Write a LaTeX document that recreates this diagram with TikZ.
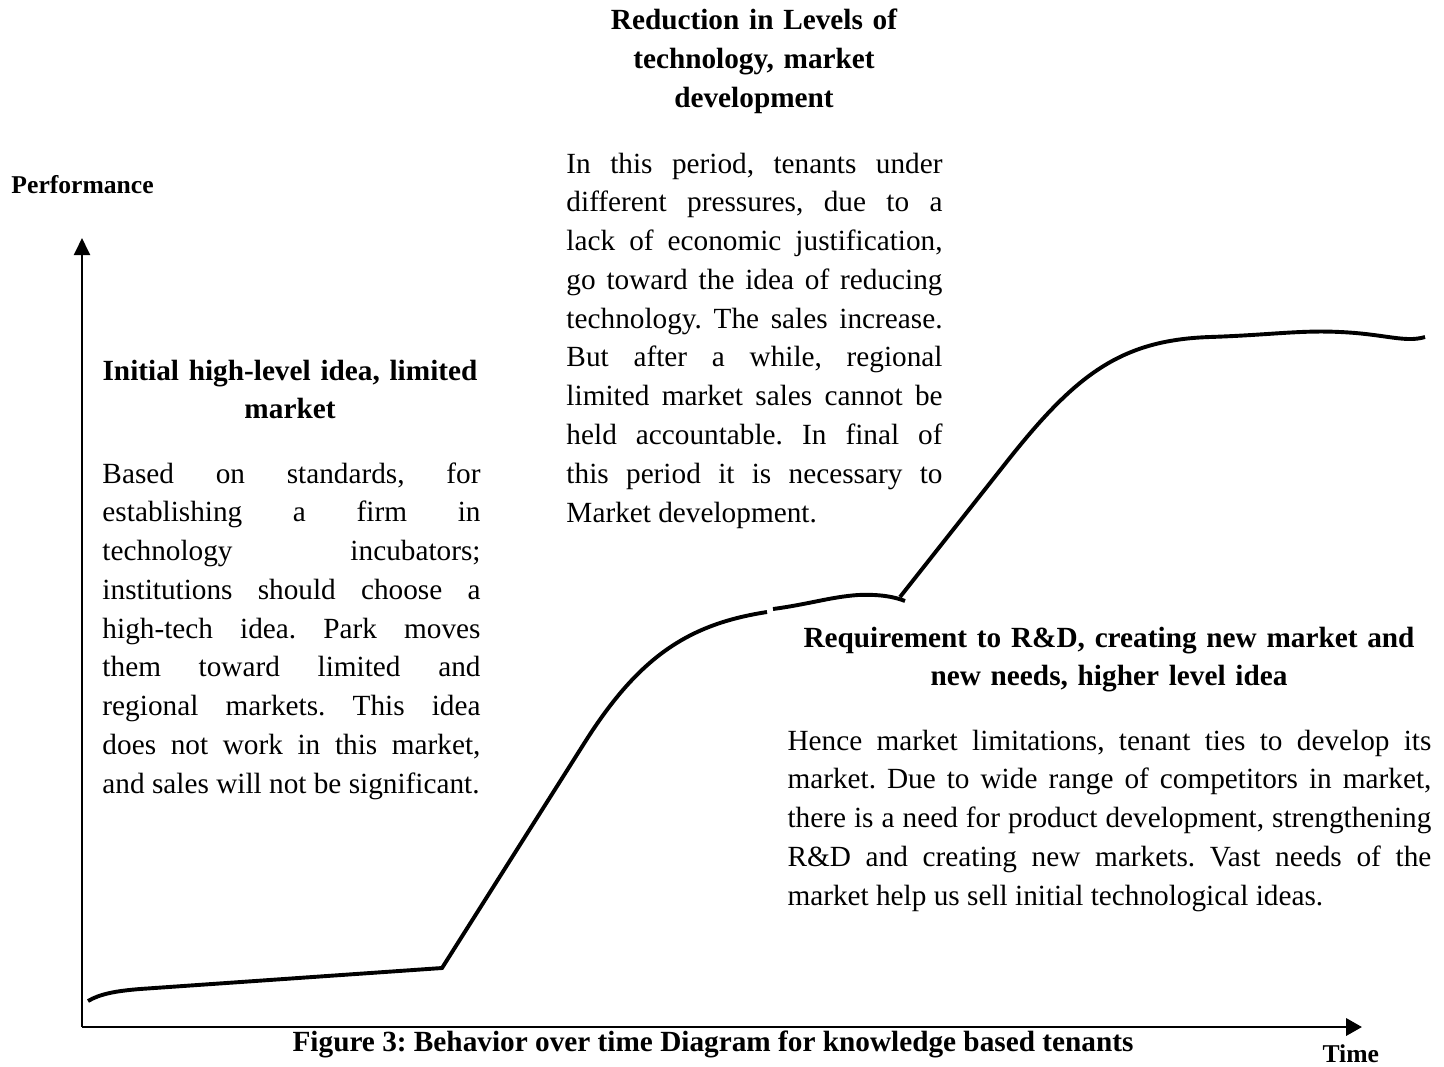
\documentclass[tikz,border=0pt]{standalone}
\usepackage{fontspec}
\setmainfont{Liberation Serif}
\usetikzlibrary{arrows.meta}
\tikzset{
	body/.style={anchor=base west, inner sep=0pt, align=justify,
			font=\fontsize{12}{15.9}\selectfont\frenchspacing},
	heading/.style={anchor=base, inner sep=0pt, align=center,
			font=\bfseries\fontsize{12}{15.8}\selectfont\frenchspacing},
	axislabel/.style={anchor=base west, inner sep=0pt,
			font=\bfseries\fontsize{10.5}{12}\selectfont}
}
\tolerance=10000
\hbadness=10000
\hyphenpenalty=10000
\exhyphenpenalty=10000

\begin{document}
\begin{tikzpicture}[x=0.41pt, y=-0.41pt]
			\useasboundingbox (0,0) rectangle (1444,1066);
			
			% Axes
			\coordinate (origin) at (82,1027);
			\coordinate (ytip) at (82,238);
			\coordinate (xtip) at (1362,1027);
			\draw[line width=1.2pt, -{Triangle[width=6.5pt,length=7pt]}] (origin) -- (ytip);
			\draw[line width=1.2pt, -{Triangle[width=7pt,length=6.5pt]}] (origin) -- (xtip);
			\node[axislabel] (perf) at (11,193) {Performance};
			\node[axislabel] (time) at (1322,1062) {Time};
			
			% Performance curve, first stage and steep rise
			\draw[line width=1.6pt] (88,1001) .. controls (100,994) and (115,991) .. (140,989)
				-- (442,968) -- (585,742) .. controls (640,655) and (690,624) .. (767,612);
			
			% Plateau of the second stage
			\draw[line width=1.6pt] (773,609) .. controls (810,604) and (830,597) .. (858,595)
				.. controls (880,594) and (895,597) .. (905,601);
			
			% Third stage rise and final plateau
			\draw[line width=1.6pt] (900,597) -- (1005,464) .. controls (1075,375) and (1120,340) .. (1210,337)
				.. controls (1270,335) and (1300,330) .. (1340,332)
				.. controls (1385,334) and (1405,343) .. (1425,337);
			
			% First stage
			\node[heading, text width=155pt] (stageAhead) at (290,380)
				{Initial high-level idea, limited\\ market};
			\node[body, text width=155pt] (stageAtext) at (102,483)
				{Based on standards, for\linebreak
				establishing a firm in\linebreak
				technology incubators;\linebreak
				institutions should choose a\linebreak
				high-tech idea. Park moves\linebreak
				them toward limited and\linebreak
				regional markets. This idea\linebreak
				does not work in this market,\linebreak
				and sales will not be significant.};
			
			% Second stage
			\node[heading, text width=155pt] (stageBhead) at (754,30)
				{Reduction in Levels of\\ technology, market\\ development};
			\node[body, text width=154.2pt] (stageBtext) at (566,173)
				{In this period, tenants under\linebreak
				different pressures, due to a\linebreak
				lack of economic justification,\linebreak
				go toward the idea of reducing\linebreak
				technology. The sales increase.\linebreak
				But after a while, regional\linebreak
				limited market sales cannot be\linebreak
				held accountable. In final of\linebreak
				this period it is necessary to\linebreak
				Market development.};
			
			% Third stage
			\node[heading, text width=264pt] (stageChead) at (1109,647)
				{Requirement to R\&D, creating new market and\\ new needs, higher level idea};
			\node[body, text width=264pt] (stageCtext) at (787,750)
				{Hence market limitations, tenant ties to develop its\linebreak
				market. Due to wide range of competitors in market,\linebreak
				there is a need for product development, strengthening\linebreak
				R\&D and creating new markets. Vast needs of the\linebreak
				market help us sell initial technological ideas.};
			
			% Caption
			\node[heading] (caption) at (713,1051)
				{Figure 3: Behavior over time Diagram for knowledge based tenants};
			
		\end{tikzpicture}
\end{document}
